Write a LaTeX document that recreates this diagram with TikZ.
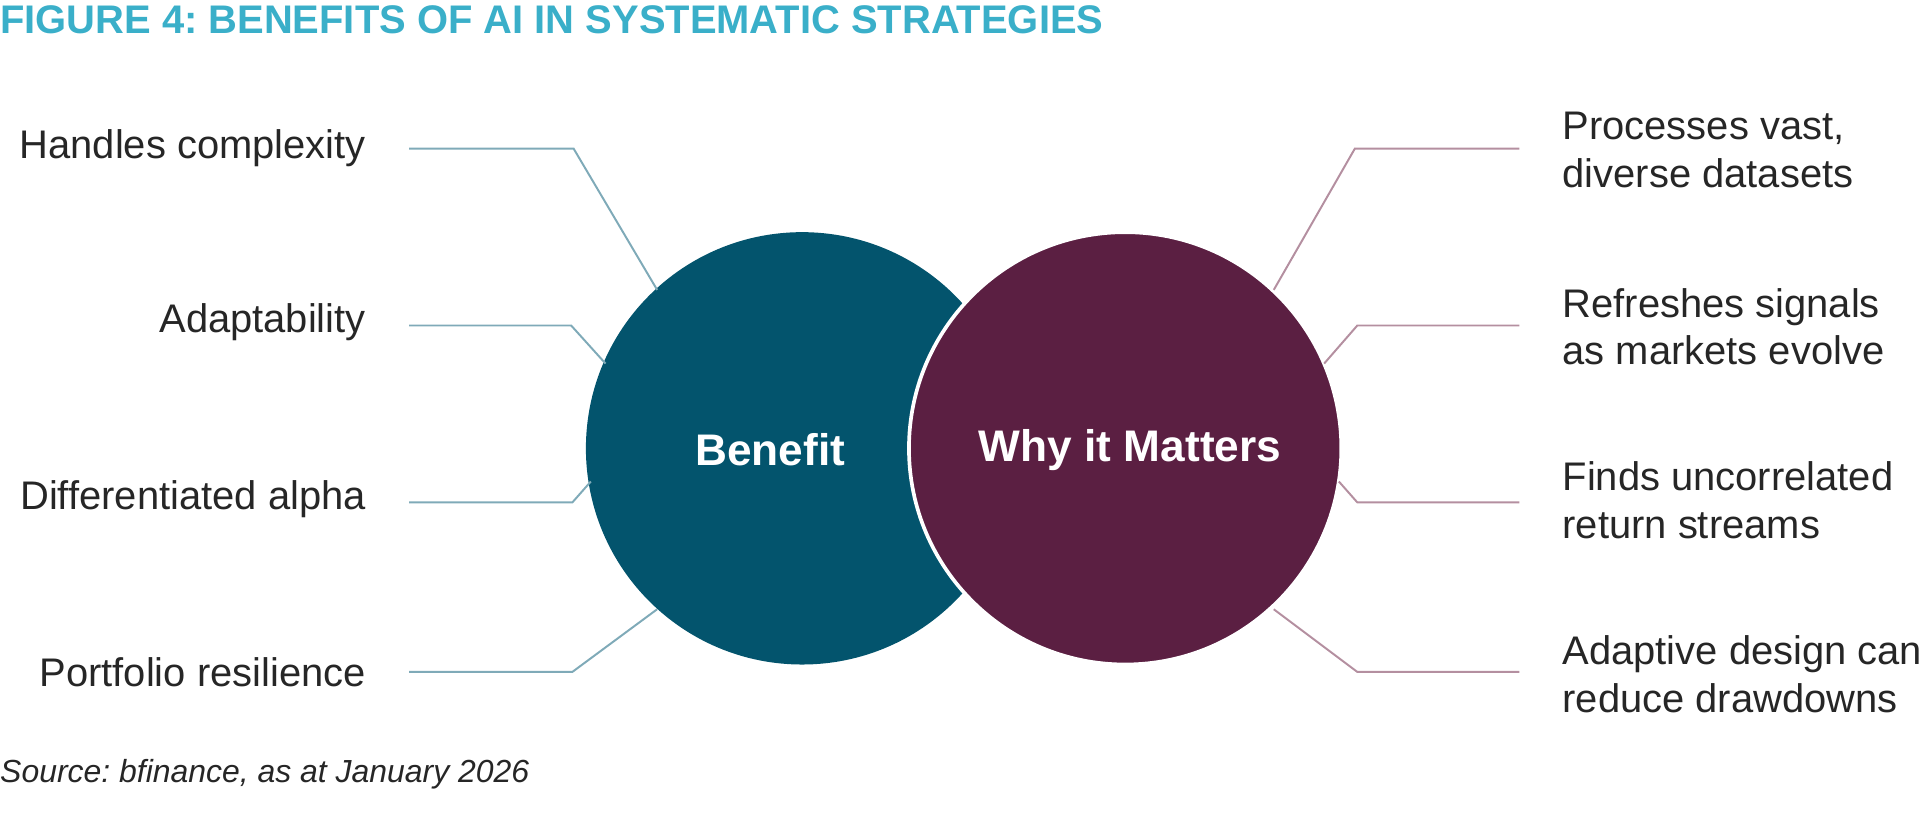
\documentclass[tikz,border=0pt]{standalone}
\usepackage{fontspec}
\setmainfont{Liberation Sans}
\frenchspacing
\begin{document}
\begin{tikzpicture}[x=1pt,y=-1pt,
 lab/.style={font=\fontsize{32.5}{39}\selectfont,text=black!85,inner sep=0pt,align=left},
 lt/.style={draw=lblue,line width=1.6pt},
 rt/.style={draw=lplum,line width=1.6pt}]
\definecolor{teal}{HTML}{03546D}
\definecolor{plum}{HTML}{5B1F42}
\definecolor{lblue}{HTML}{7FAAB8}
\definecolor{lplum}{HTML}{B48FA0}
\definecolor{ttl}{HTML}{3AAFC9}
\useasboundingbox (0,0) rectangle (1568,672);
\node[anchor=west,inner sep=0pt,text=ttl,font=\fontsize{32.5}{36}\selectfont\bfseries] (title) at (0,16) {FIGURE 4: BENEFITS OF AI IN SYSTEMATIC STRATEGIES};
\node[circle,fill=teal,minimum size=352pt,inner sep=0pt] (b) at (653,365) {};
\node[circle,fill=plum,draw=white,line width=3pt,minimum size=352pt,inner sep=0pt] (w) at (916,365) {};
\node[text=white,font=\fontsize{36}{40}\selectfont\bfseries] (bt) at (627,366) {Benefit};
\node[text=white,font=\fontsize{36}{40}\selectfont\bfseries] (wt) at (920,366) {Why it Matters};
% left
\node[lab,anchor=east] (l1) at (298,121) {Handles complexity};
\node[lab,anchor=east] (l2) at (298,262) {Adaptability};
\node[lab,anchor=east] (l3) at (298,406) {Differentiated alpha};
\node[lab,anchor=east] (l4) at (298,547) {Portfolio resilience};
\coordinate (a1) at (333,121); \coordinate (a2) at (333,265); \coordinate (a3) at (333,409); \coordinate (a4) at (333,547);
\draw[lt] (a1) -- (467,121) -- (535,236);
\draw[lt] (a2) -- (465,265) -- (493,296);
\draw[lt] (a3) -- (466,409) -- (481,392);
\draw[lt] (a4) -- (466,547) -- (535,496);
% right
\node[lab,anchor=west] (r1) at (1272,122) {Processes vast,\\diverse datasets};
\node[lab,anchor=west] (r2) at (1272,266) {Refreshes signals\\as markets evolve};
\node[lab,anchor=west] (r3) at (1272,407) {Finds uncorrelated\\return streams};
\node[lab,anchor=west] (r4) at (1272,549) {Adaptive design can\\reduce drawdowns};
\coordinate (c1) at (1237,121); \coordinate (c2) at (1237,265); \coordinate (c3) at (1237,409); \coordinate (c4) at (1237,547);
\draw[rt] (c1) -- (1103,121) -- (1037,236);
\draw[rt] (c2) -- (1105,265) -- (1078,296);
\draw[rt] (c3) -- (1105,409) -- (1090,392);
\draw[rt] (c4) -- (1105,547) -- (1037,496);
\node[anchor=west,inner sep=0pt,text=black!85,font=\fontsize{26}{30}\selectfont\itshape] (src) at (0,630) {Source: bfinance, as at January 2026};
\end{tikzpicture}
\end{document}
